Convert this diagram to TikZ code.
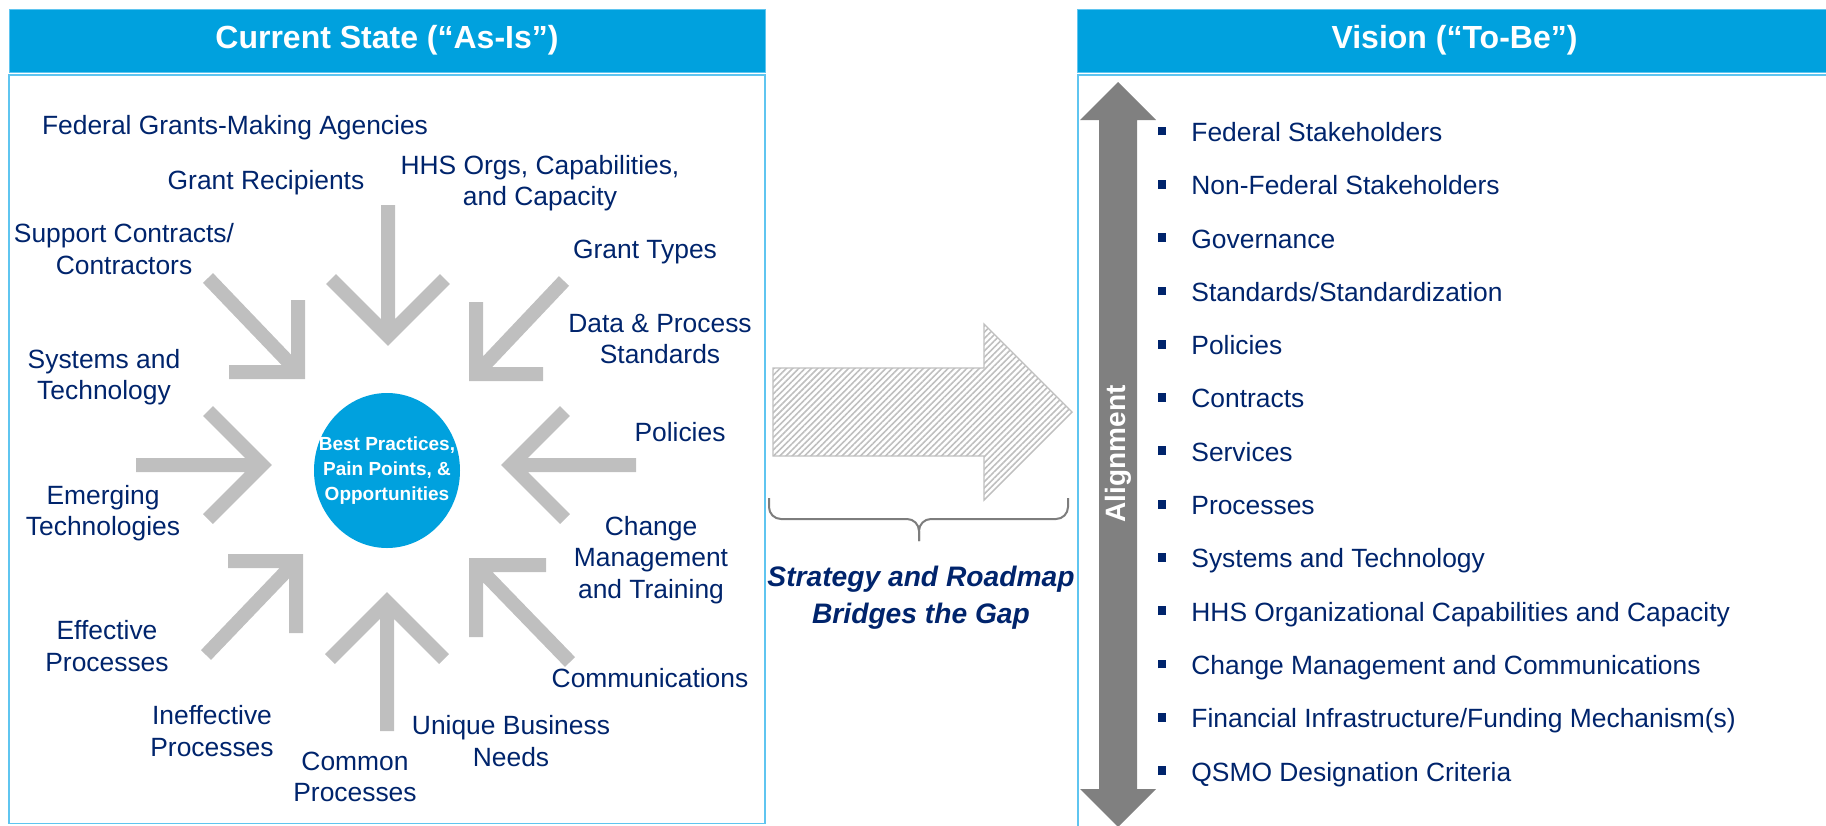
\documentclass[tikz,border=0pt]{standalone}
\usepackage{fontspec}
\setmainfont{Liberation Sans}
\usetikzlibrary{shapes,arrows,positioning,patterns.meta}

\definecolor{hdrblue}{RGB}{0,161,222}
\definecolor{rimblue}{RGB}{95,197,240}
\definecolor{navy}{RGB}{0,36,108}
\definecolor{arrowgray}{RGB}{191,191,191}
\definecolor{aligngray}{RGB}{128,128,128}
\definecolor{bracegray}{RGB}{125,125,125}

\newcommand{\sqbullet}{\makebox[16.5pt][l]{\raisebox{3pt}{\rule{3.8pt}{4.4pt}}}}

\tikzset{
  header/.style={fill=hdrblue, draw=rimblue, line width=0.5pt, minimum height=31.5pt,
    text=white, font=\fontsize{16}{19}\selectfont\bfseries},
  panel/.style={draw=rimblue, line width=0.8pt},
  factor/.style={text=navy, align=center, inner sep=0pt, font=\fontsize{13.2}{15.8}\selectfont},
  inarrow/.style={draw=arrowgray, line width=7pt, line join=miter},
  hub/.style={ellipse, fill=hdrblue, minimum width=73pt, minimum height=77.5pt, inner sep=0pt},
  hubtext/.style={text=white, align=center, inner sep=0pt, font=\fontsize{9.5}{12.5}\selectfont\bfseries},
  bridge/.style={draw=arrowgray, line width=0.7pt,
    pattern={Lines[angle=45,distance=2.2pt,line width=0.8pt]}, pattern color=arrowgray},
  gapbrace/.style={draw=bracegray, line width=1pt, rounded corners=6pt},
  gapnote/.style={text=navy, align=center, inner sep=0pt, font=\fontsize{14.1}{18.5}\selectfont\bfseries\itshape},
  aligntext/.style={rotate=90, text=white, inner sep=0pt, font=\fontsize{14}{16}\selectfont\bfseries},
  visionitem/.style={text=navy, anchor=west, inner sep=0pt, text height=12pt, text depth=2.6pt,
    font=\fontsize{13.2}{15.8}\selectfont},
}

\begin{document}
\begin{tikzpicture}[x=0.5pt,y=-0.5pt]
\useasboundingbox (0,0) rectangle (1826,825);

% Headers and panels
\node[header, minimum width=378pt] (asis) at (387,40.5) {Current State (“As-Is”)};
\node[header, minimum width=377.5pt] (tobe) at (1454.5,40.5) {Vision (“To-Be”)};
\draw[panel] (9,75) rectangle (765,823.5);
\draw[panel] (1078,75) rectangle (1834,834);

% Centre
\node[hub] (hub) at (387,470.5) {};
\node[hubtext] (hubtext) at (hub.center) {Best Practices,\\Pain Points, \&\\Opportunities};

% Arrows pointing in
\draw[inarrow] (388,205) -- (388,336) (331,279) -- (388,336) -- (445,279);
\draw[inarrow] (387,731) -- (387,602) (330,659) -- (387,602) -- (444,659);
\draw[inarrow] (136,465) -- (262,465) (208,411) -- (262,465) -- (208,519);
\draw[inarrow] (636,465) -- (511,465) (565,411) -- (511,465) -- (565,519);
\draw[inarrow] (208,278) -- (298,372) (298,300) -- (298,372) -- (229,372);
\draw[inarrow] (564,281) -- (476,374) (476,302) -- (476,374) -- (543,374);
\draw[inarrow] (206,655) -- (296,561) (228,561) -- (296,561) -- (296,633);
\draw[inarrow] (570,662) -- (476,565) (546,565) -- (476,565) -- (476,637);

% Labels
\node[factor] (fedagency) at (235,128) {Federal Grants-Making Agencies};
\node[factor] (recipients) at (266,183) {Grant Recipients};
\node[factor] (hhsorgs) at (540,183) {HHS Orgs, Capabilities,\\and Capacity};
\node[factor] (support) at (124,249) {Support Contracts/\\Contractors};
\node[factor] (granttypes) at (645,252) {Grant Types};
\node[factor] (datastd) at (660,339) {Data \& Process\\Standards};
\node[factor] (systems) at (104,377) {Systems and\\Technology};
\node[factor] (policies) at (680,432) {Policies};
\node[factor] (emerging) at (103,513) {Emerging\\Technologies};
\node[factor] (change) at (651,560) {Change\\Management\\and Training};
\node[factor] (effective) at (107,646) {Effective\\Processes};
\node[factor] (comms) at (650,678) {Communications};
\node[factor] (ineffective) at (212,731) {Ineffective\\Processes};
\node[factor] (unique) at (511,741) {Unique Business\\Needs};
\node[factor] (common) at (355,777) {Common\\Processes};

% Bridge
\draw[bridge] (773,368) -- (984,368) -- (984,324) -- (1072,412) -- (984,500) -- (984,456) -- (773,456) -- cycle;
\draw[gapbrace] (769,498) -- (769,519) -- (919,519) -- (919,541);
\draw[gapbrace] (1068,498) -- (1068,519) -- (919,519) -- (919,541);
\node[gapnote] (gap) at (921,598) {Strategy and Roadmap\\Bridges the Gap};

% Alignment
\fill[aligngray] (1118,82) -- (1156,120) -- (1137,120) -- (1137,789) -- (1156,789) -- (1118,827)
  -- (1080,789) -- (1099,789) -- (1099,120) -- (1080,120) -- cycle;
\node[aligntext] (align) at (1118,454) {Alignment};

% Vision list
\node[visionitem] (vfed) at (1158,132) {\sqbullet Federal Stakeholders};
\node[visionitem] (vnonfed) at (1158,185.3) {\sqbullet Non-Federal Stakeholders};
\node[visionitem] (vgov) at (1158,238.6) {\sqbullet Governance};
\node[visionitem] (vstd) at (1158,292) {\sqbullet Standards/Standardization};
\node[visionitem] (vpol) at (1158,345.2) {\sqbullet Policies};
\node[visionitem] (vcon) at (1158,398.5) {\sqbullet Contracts};
\node[visionitem] (vsvc) at (1158,451.8) {\sqbullet Services};
\node[visionitem] (vproc) at (1158,505.1) {\sqbullet Processes};
\node[visionitem] (vsys) at (1158,558.4) {\sqbullet Systems and Technology};
\node[visionitem] (vhhs) at (1158,611.7) {\sqbullet HHS Organizational Capabilities and Capacity};
\node[visionitem] (vchg) at (1158,665) {\sqbullet Change Management and Communications};
\node[visionitem] (vfin) at (1158,718.3) {\sqbullet Financial Infrastructure/Funding Mechanism(s)};
\node[visionitem] (vqsmo) at (1158,771.6) {\sqbullet QSMO Designation Criteria};
\end{tikzpicture}
\end{document}
